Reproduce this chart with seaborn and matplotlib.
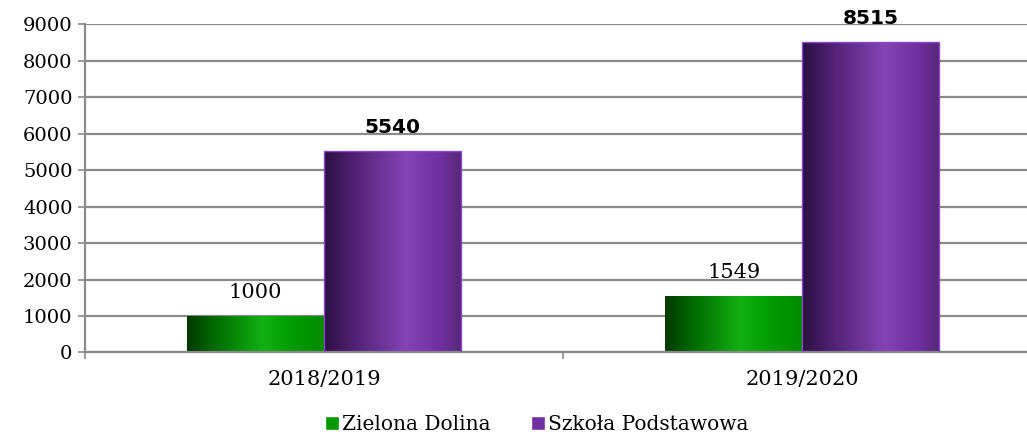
import numpy as np
import pandas as pd
import matplotlib
matplotlib.use("Agg")
import matplotlib.pyplot as plt
from matplotlib.colors import LinearSegmentedColormap
import seaborn as sns

years = ["2018/2019", "2019/2020"]
series = ["Zielona Dolina", "Szkoła Podstawowa"]
zielona = [1000, 1549]
szkola = [5540, 8515]

df = pd.DataFrame({
    "rok": years * 2,
    "seria": [series[0]] * 2 + [series[1]] * 2,
    "liczba": zielona + szkola,
})

sns.set_style("white")
plt.rcParams["font.family"] = ["DejaVu Serif"]
plt.rcParams["text.color"] = "black"
plt.rcParams["xtick.color"] = "black"
plt.rcParams["ytick.color"] = "black"

fig = plt.figure(figsize=(10.27, 4.41), dpi=100)
ax = fig.add_axes([0.0828, 0.2007, 0.931, 0.7438])

base_colors = ["#009900", "#7030a0"]
sns.barplot(data=df, x="rok", y="liczba", hue="seria", palette=base_colors,
            width=0.573, gap=0, ax=ax, legend=True, saturation=1)

# Excel-like horizontal gradient for each series
cmaps = [
    LinearSegmentedColormap.from_list("g", [(0, "#003a00"), (0.2, "#006a00"),
                                            (0.55, "#12b012"), (0.8, "#009a00"),
                                            (1, "#008a00")]),
    LinearSegmentedColormap.from_list("p", [(0, "#2a1040"), (0.2, "#4e2070"),
                                            (0.6, "#8444b4"), (0.85, "#7030a0"),
                                            (1, "#582878")]),
]
edges = ["none", "#8a48c8"]
grad = np.linspace(0, 1, 256).reshape(1, -1)
for cont, cmap, ec in zip(ax.containers, cmaps, edges):
    for bar in cont:
        x0, y0 = bar.get_x(), bar.get_y()
        w, h = bar.get_width(), bar.get_height()
        im = ax.imshow(grad, cmap=cmap, aspect="auto",
                       extent=(x0, x0 + w, y0, y0 + h), zorder=2)
        im.set_clip_path(bar)
        bar.set_edgecolor(ec)
        bar.set_linewidth(1.0)
        bar.set_zorder(3)
        bar.set_facecolor("none")

ax.bar_label(ax.containers[0], labels=[str(v) for v in zielona], padding=10,
             fontsize=15, family="DejaVu Serif", color="black")
ax.bar_label(ax.containers[1], labels=[str(v) for v in szkola], padding=10,
             fontsize=14.5, fontweight="bold", family="DejaVu Sans", color="black")

ax.set_xlim(-0.5, 1.5)
ax.set_ylim(0, 9000)
ax.set_yticks(range(0, 9001, 1000))
ax.set_xlabel("")
ax.set_ylabel("")

ax.yaxis.grid(True, color="#8a8a8a", linewidth=1.6)
ax.set_axisbelow(True)
for s in ["top", "right"]:
    ax.spines[s].set_visible(False)
for s in ["left", "bottom"]:
    ax.spines[s].set_color("#8a8a8a")
    ax.spines[s].set_linewidth(1.6)

ax.tick_params(axis="y", left=True, length=5, width=1.2, color="#8a8a8a",
               labelcolor="black", labelsize=14, pad=4)
ax.tick_params(axis="x", bottom=False, labelcolor="black", labelsize=15, pad=9)
ax.set_xticks([-0.5, 0.5, 1.5], minor=True)
ax.tick_params(axis="x", which="minor", bottom=True, length=5, width=1.2,
               color="#8a8a8a")

handles, labels = ax.get_legend_handles_labels()
ax.legend_.remove()
fig.legend(handles, labels, loc="lower center", bbox_to_anchor=(0.523, -0.025),
           ncol=2, frameon=False, fontsize=14.5, handlelength=0.7,
           handleheight=0.7, handletextpad=0.15, columnspacing=2.0)

fig.savefig("out.png", dpi=100)
